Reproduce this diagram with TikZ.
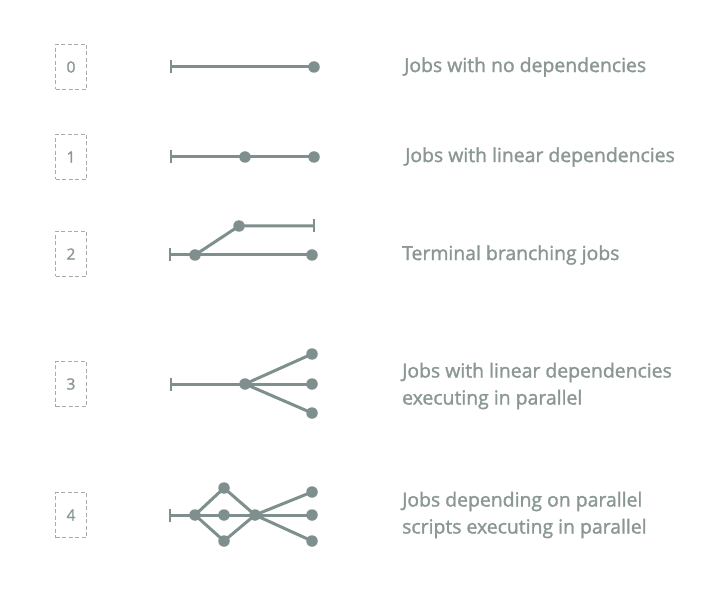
\documentclass[tikz,border=0pt]{standalone}
\usepackage{fontspec}
\setmainfont{Open Sans}[FakeBold=1.5]
\definecolor{linec}{HTML}{7F8F8D}
\definecolor{textc}{HTML}{8A9795}
\definecolor{boxc}{HTML}{AAAAAA}
\begin{document}
\begin{tikzpicture}[x=1pt,y=-1pt,
  numbox/.style={draw=boxc,line width=1.3pt,dash pattern=on 4pt off 2.5pt,minimum width=31pt,minimum height=45pt,inner sep=0pt,text=textc,font=\fontsize{15.5}{17}\selectfont},
  dot/.style={circle,fill=linec,minimum size=11.5pt,inner sep=0pt},
  edge/.style={draw=linec,line width=3pt},
  barend/.style={draw=linec,line width=2.4pt},
  lbl/.style={anchor=west,text=textc,font=\fontsize{19.4}{27}\selectfont,align=left,inner sep=0pt}]
\useasboundingbox (0,0) rectangle (710,596);
% boxes
\node[numbox] (b0) at (71,67) {0};
\node[numbox] (b1) at (71,157) {1};
\node[numbox] (b2) at (71,254) {2};
\node[numbox] (b3) at (71,384) {3};
\node[numbox] (b4) at (71,515) {4};
% row 0
\coordinate (s0) at (171,67);
\node[dot] (e0) at (314,67) {};
\draw[edge] (s0) -- (e0.center);
\draw[barend] ([yshift=-6.5pt]s0) -- ([yshift=6.5pt]s0);
% row 1
\coordinate (s1) at (171,157);
\node[dot] (m1) at (245,157) {};
\node[dot] (e1) at (314,157) {};
\draw[edge] (s1) -- (m1.center) -- (e1.center);
\draw[barend] ([yshift=-6.5pt]s1) -- ([yshift=6.5pt]s1);
% row 2
\coordinate (s2) at (170,255);
\node[dot] (m2) at (195,255) {};
\node[dot] (e2) at (312,255) {};
\node[dot] (u2) at (239,226) {};
\coordinate (t2) at (314,226);
\draw[edge] (s2) -- (m2.center) -- (e2.center);
\draw[edge] (m2.center) -- (u2.center) -- (t2);
\draw[barend] ([yshift=-6.5pt]s2) -- ([yshift=6.5pt]s2);
\draw[barend] ([yshift=-6.5pt]t2) -- ([yshift=6.5pt]t2);
% row 3
\coordinate (s3) at (171,384);
\node[dot] (m3) at (245,384) {};
\node[dot] (e3a) at (312,354) {};
\node[dot] (e3b) at (312,384) {};
\node[dot] (e3c) at (312,413) {};
\draw[edge] (s3) -- (m3.center) -- (e3b.center);
\draw[edge] (m3.center) -- (e3a.center);
\draw[edge] (m3.center) -- (e3c.center);
\draw[barend] ([yshift=-6.5pt]s3) -- ([yshift=6.5pt]s3);
% row 4
\coordinate (s4) at (170,515);
\node[dot] (a4) at (195,515) {};
\node[dot] (p4) at (224,488) {};
\node[dot] (q4) at (224,515) {};
\node[dot] (r4) at (224,541) {};
\node[dot] (j4) at (255,515) {};
\node[dot] (e4a) at (312,492) {};
\node[dot] (e4b) at (312,515) {};
\node[dot] (e4c) at (312,541) {};
\draw[edge] (s4) -- (a4.center) -- (q4.center) -- (j4.center) -- (e4b.center);
\draw[edge] (a4.center) -- (p4.center) -- (j4.center);
\draw[edge] (a4.center) -- (r4.center) -- (j4.center);
\draw[edge] (j4.center) -- (e4a.center);
\draw[edge] (j4.center) -- (e4c.center);
\draw[barend] ([yshift=-6.5pt]s4) -- ([yshift=6.5pt]s4);
% labels
\node[lbl] (l0) at (404,67) {Jobs with no dependencies};
\node[lbl] (l1) at (405,157) {Jobs with linear dependencies};
\node[lbl] (l2) at (402,255) {Terminal branching jobs};
\node[lbl] (l3) at (402,386) {Jobs with linear dependencies\\executing in parallel};
\node[lbl] (l4) at (402,515) {Jobs depending on parallel\\scripts executing in parallel};
\end{tikzpicture}
\end{document}
